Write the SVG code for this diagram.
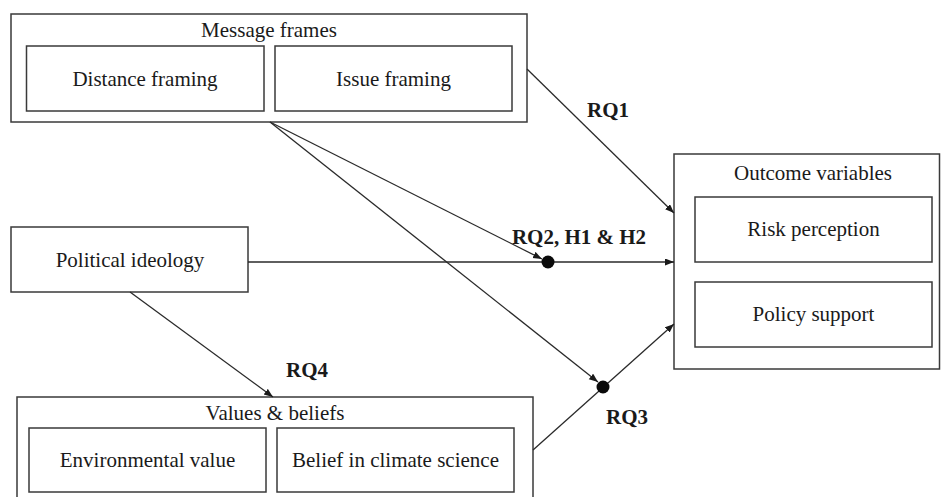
<svg xmlns="http://www.w3.org/2000/svg" width="941" height="497" viewBox="0 0 941 497">
<style>
.box{fill:none;stroke:#3a3a3a;stroke-width:1.5}
.t{font-family:"Liberation Serif","Times New Roman",serif;font-size:21px;fill:#1a1a1a;text-anchor:middle}
.b{font-family:"Liberation Serif","Times New Roman",serif;font-size:21px;font-weight:bold;fill:#1a1a1a;text-anchor:middle}
.c{fill:none;stroke:#2a2a2a;stroke-width:1.3}
</style>
<defs>
<marker id="ah" markerUnits="userSpaceOnUse" markerWidth="10" markerHeight="8" refX="9" refY="3.5" orient="auto">
<path d="M0,0 L9,3.5 L0,7 z" fill="#1a1a1a"/>
</marker>
</defs>
<rect width="941" height="497" fill="#ffffff"/>
<g id="message-frames">
<rect class="box" x="11" y="14" width="516" height="108"/>
<text class="t" x="269" y="37">Message frames</text>
<g id="distance-framing">
<rect class="box" x="26.5" y="46" width="237.5" height="65"/>
<text class="t" x="145" y="86">Distance framing</text>
</g>
<g id="issue-framing">
<rect class="box" x="275" y="46" width="237" height="65"/>
<text class="t" x="393.5" y="86">Issue framing</text>
</g>
</g>
<g id="political-ideology">
<rect class="box" x="11" y="227" width="237" height="65"/>
<text class="t" x="130" y="267">Political ideology</text>
</g>
<g id="outcome-variables">
<rect class="box" x="674" y="154" width="265.5" height="215"/>
<text class="t" x="813" y="180">Outcome variables</text>
<g id="risk-perception">
<rect class="box" x="695" y="197" width="237" height="65"/>
<text class="t" x="813.5" y="236">Risk perception</text>
</g>
<g id="policy-support">
<rect class="box" x="695" y="282" width="237" height="65"/>
<text class="t" x="813.5" y="321">Policy support</text>
</g>
</g>
<g id="values-beliefs">
<rect class="box" x="17" y="397" width="516" height="120"/>
<text class="t" x="275" y="420">Values &amp; beliefs</text>
<g id="environmental-value">
<rect class="box" x="29" y="428" width="237" height="64"/>
<text class="t" x="147.5" y="467">Environmental value</text>
</g>
<g id="belief-climate-science">
<rect class="box" x="277" y="428" width="237" height="64"/>
<text class="t" x="395.5" y="467">Belief in climate science</text>
</g>
</g>
<g id="connectors">
<line class="c" x1="527" y1="69" x2="674" y2="213" marker-end="url(#ah)"/>
<line class="c" x1="270" y1="122" x2="542" y2="259" marker-end="url(#ah)"/>
<line class="c" x1="270" y1="122" x2="598" y2="382" marker-end="url(#ah)"/>
<line class="c" x1="248" y1="262" x2="674" y2="262" marker-end="url(#ah)"/>
<line class="c" x1="533" y1="450" x2="674" y2="324" marker-end="url(#ah)"/>
<line class="c" x1="130" y1="292" x2="273" y2="397" marker-end="url(#ah)"/>
<circle cx="548" cy="262" r="6.5" fill="#0a0a0a"/>
<circle cx="603" cy="387" r="6.5" fill="#0a0a0a"/>
</g>
<g id="labels">
<text class="b" x="608" y="117">RQ1</text>
<text class="b" x="579" y="244">RQ2, H1 &amp; H2</text>
<text class="b" x="627" y="424">RQ3</text>
<text class="b" x="307" y="377">RQ4</text>
</g>
</svg>
